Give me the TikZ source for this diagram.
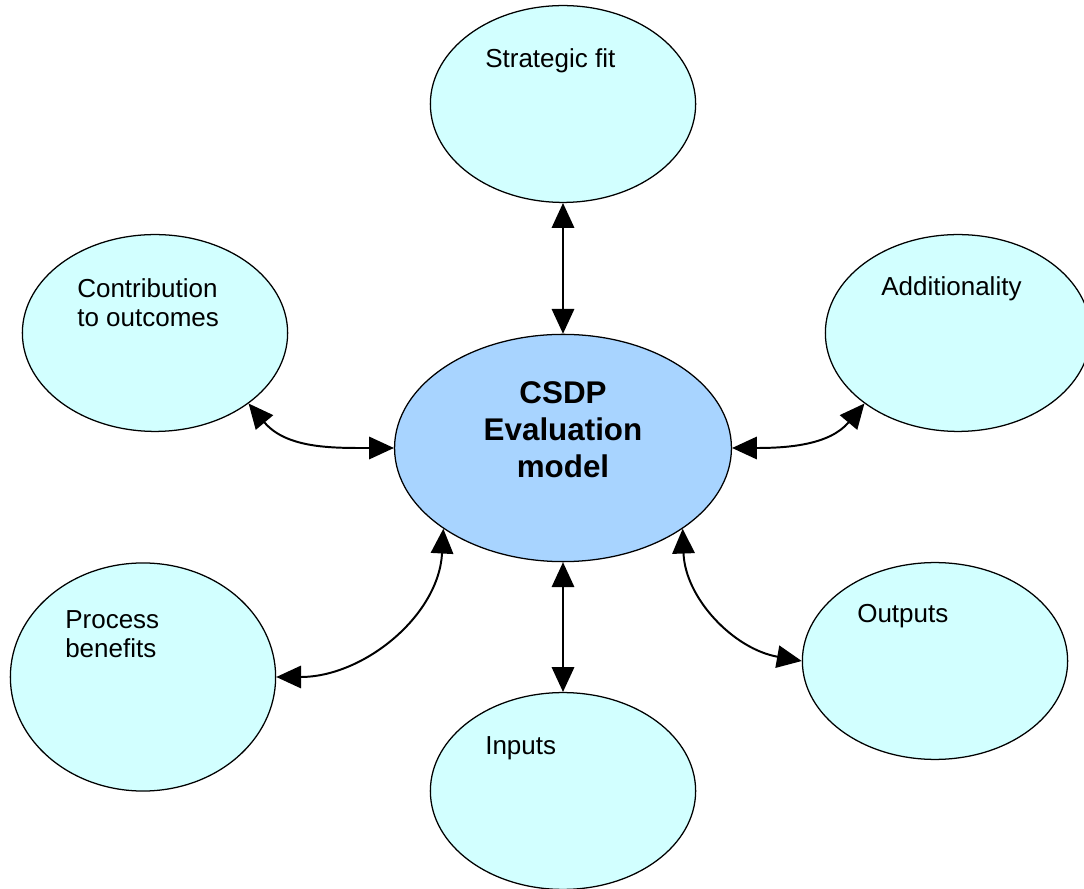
\documentclass[tikz,border=0pt]{standalone}
\usepackage{fontspec}
\setmainfont{Liberation Sans}
\usepackage{xcolor}
\usetikzlibrary{arrows.meta,shapes.geometric}
\definecolor{bubfill}{HTML}{D2FFFF}
\definecolor{hubfill}{HTML}{A8D4FF}
\begin{document}
\begin{tikzpicture}[x=0.025cm,y=0.025cm,
  bub/.style={ellipse,draw,line width=0.9pt,fill=bubfill,inner sep=0pt,minimum width=6.63cm,minimum height=4.92cm},
  hub/.style={bub,fill=hubfill,minimum width=8.42cm,minimum height=5.68cm},
  txt/.style={inner sep=0pt,anchor=base west,align=left,font=\fontsize{18.5}{21.3}\selectfont},
  link/.style={{Triangle[length=0.62cm 0 0,width=0.56cm 0 0]}-{Triangle[length=0.62cm 0 0,width=0.56cm 0 0]},line width=1.4pt}]
 \useasboundingbox (0,0) rectangle (1084,888);
 % bubbles
 \node[bub] (sf) at (563,784) {};
 \node[bub] (contrib) at (155,555) {};
 \node[bub] (addit) at (958,555) {};
 \node[hub] (model) at (563,440) {};
 \node[bub,minimum height=5.7cm] (process) at (143,211) {};
 \node[bub] (outputs) at (935,227) {};
 \node[bub] (inputs) at (563,97) {};
 % texts
 \node[txt] (sftxt) at (485,820) {Strategic fit};
 \node[txt] (contribtxt) at (77,561) {Contribution\\to outcomes};
 \node[txt] (additxt) at (881,592) {Additionality};
 \node[txt] (processtxt) at (65,230) {Process\\benefits};
 \node[txt] (outputstxt) at (857,265) {Outputs};
 \node[txt] (inputstxt) at (485,134) {Inputs};
 \node[align=center,inner sep=0pt,font=\fontsize{22.3}{26.3}\selectfont\bfseries] (modeltxt) at (563,458) {CSDP\\Evaluation\\model};
 % links
 \draw[link] (sf.south) -- (model.north);
 \draw[link] (contrib.-37) to[out=-50,in=180] (model.west);
 \draw[link] (addit.-143) to[out=-130,in=0] (model.east);
 \draw[link] (model.214) to[out=-93,in=0] (process.east);
 \draw[link] (model.-34) to[out=-88,in=170] (outputs.west);
 \draw[link] (model.south) -- (inputs.north);
\end{tikzpicture}
\end{document}
